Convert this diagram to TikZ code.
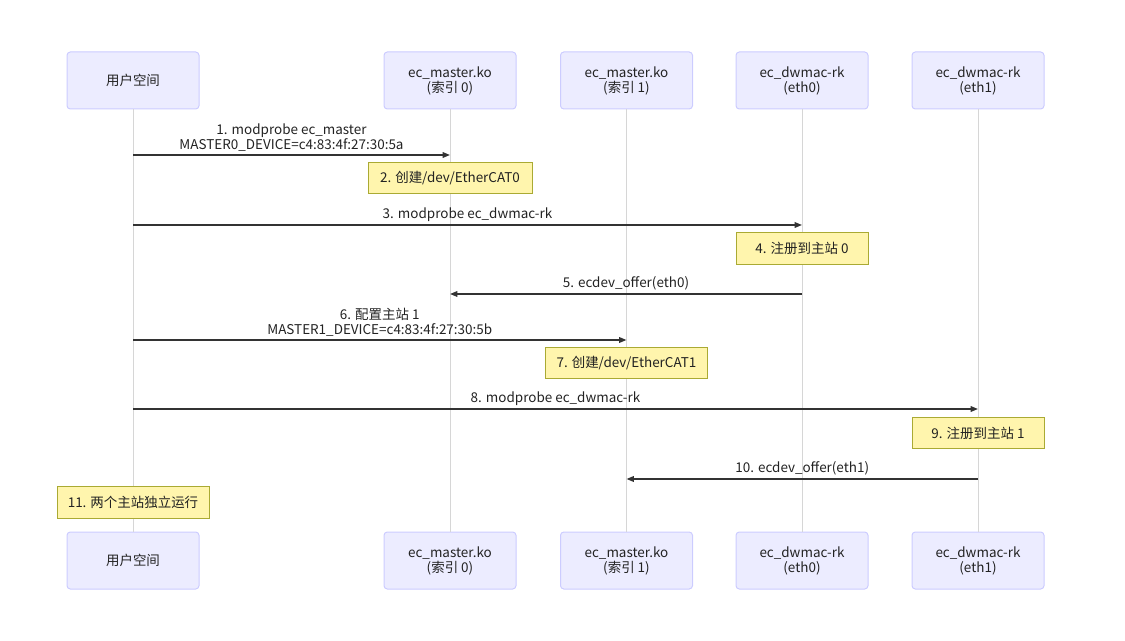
\documentclass[tikz,border=0pt]{standalone}
\usepackage{fontspec}
\setmainfont{Noto Sans CJK SC}
\usetikzlibrary{arrows.meta}
\definecolor{actorfill}{HTML}{ECECFF}
\definecolor{actorborder}{HTML}{CCCCFF}
\definecolor{notefill}{HTML}{FFF5AD}
\definecolor{noteborder}{HTML}{AAAA33}
\definecolor{linec}{HTML}{333333}
\definecolor{lifec}{HTML}{D6D6D6}
\definecolor{textc}{HTML}{222222}
\begin{document}
\begin{tikzpicture}[x=0.75pt,y=-0.75pt,
  every node/.style={font=\fontsize{10.1}{11.25}\selectfont, text=textc},
  actor/.style={draw=actorborder, fill=actorfill, rounded corners=2.5pt,
    minimum width=99pt, minimum height=42.75pt, align=center, line width=0.75pt, inner sep=1pt},
  note/.style={draw=noteborder, fill=notefill, minimum height=23.5pt, align=center,
    line width=0.75pt, inner sep=1pt},
  life/.style={draw=lifec, line width=0.75pt},
  msg/.style={draw=linec, line width=1.1pt, -{Triangle[length=5.5pt,width=4.2pt]}},
  lbl/.style={midway, above, inner sep=0pt, yshift=2.2pt, align=center}
]
\useasboundingbox (0,0) rectangle (1125,641);
% top participants
\node[actor] (u)  at (133,80.5) {用户空间};
\node[actor] (m0) at (450,80.5) {ec\_master.ko\\(索引 0)};
\node[actor] (m1) at (626.5,80.5) {ec\_master.ko\\(索引 1)};
\node[actor] (e0) at (802,80.5) {ec\_dwmac-rk\\(eth0)};
\node[actor] (e1) at (978,80.5) {ec\_dwmac-rk\\(eth1)};
% bottom participants
\node[actor] (ub)  at (133,560.5) {用户空间};
\node[actor] (m0b) at (450,560.5) {ec\_master.ko\\(索引 0)};
\node[actor] (m1b) at (626.5,560.5) {ec\_master.ko\\(索引 1)};
\node[actor] (e0b) at (802,560.5) {ec\_dwmac-rk\\(eth0)};
\node[actor] (e1b) at (978,560.5) {ec\_dwmac-rk\\(eth1)};
% lifelines
\draw[life] (u) -- (ub);
\draw[life] (m0) -- (m0b);
\draw[life] (m1) -- (m1b);
\draw[life] (e0) -- (e0b);
\draw[life] (e1) -- (e1b);
% notes
\node[note, minimum width=123pt] (n2) at (450,178) {2. 创建/dev/EtherCAT0};
\node[note, minimum width=99pt] (n4) at (802,248.5) {4. 注册到主站 0};
\node[note, minimum width=122pt] (n7) at (626.5,363) {7. 创建/dev/EtherCAT1};
\node[note, minimum width=99pt] (n9) at (978,433) {9. 注册到主站 1};
\node[note, minimum width=114pt] (n11) at (133,502.5) {11. 两个主站独立运行};
% messages
\draw[msg] (u |- 0,155) -- (m0 |- 0,155) node[lbl] {1. modprobe ec\_master\\MASTER0\_DEVICE=c4:83:4f:27:30:5a};
\draw[msg] (u |- 0,225) -- (e0 |- 0,225) node[lbl] {3. modprobe ec\_dwmac-rk};
\draw[msg] (e0 |- 0,294) -- (m0 |- 0,294) node[lbl] {5. ecdev\_offer(eth0)};
\draw[msg] (u |- 0,340) -- (m1 |- 0,340) node[lbl] {6. 配置主站 1\\MASTER1\_DEVICE=c4:83:4f:27:30:5b};
\draw[msg] (u |- 0,409) -- (e1 |- 0,409) node[lbl] {8. modprobe ec\_dwmac-rk};
\draw[msg] (e1 |- 0,479) -- (m1 |- 0,479) node[lbl] {10. ecdev\_offer(eth1)};
\end{tikzpicture}
\end{document}
